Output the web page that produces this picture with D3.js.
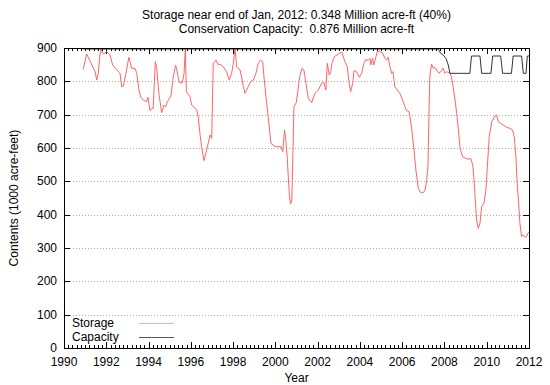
<!DOCTYPE html>
<html>
<head>
<meta charset="utf-8">
<script src="https://cdnjs.cloudflare.com/ajax/libs/d3/7.8.5/d3.min.js"></script>
<style>
  body { margin: 0; background: #fff; }
  svg text { font-family: "Liberation Sans", Arial, sans-serif; fill: #000; }
</style>
</head>
<body>
<div id="chart"></div>
<script>
// Storage (1000 acre-feet)
const storageYears = [
  1990.91, 1991.07, 1991.23, 1991.39, 1991.47, 1991.55, 1991.62, 1991.70, 1991.75, 1991.86,
  1992.02, 1992.18, 1992.30, 1992.49, 1992.65, 1992.73, 1992.81, 1992.93, 1993.07, 1993.20,
  1993.36, 1993.44, 1993.55, 1993.63, 1993.75, 1993.91, 1993.97, 1994.07, 1994.15, 1994.22,
  1994.32, 1994.38, 1994.49, 1994.62, 1994.73, 1994.82, 1994.89, 1995.06, 1995.17, 1995.28,
  1995.36, 1995.45, 1995.60, 1995.68, 1995.74, 1995.79, 1995.96, 1996.04, 1996.20, 1996.28,
  1996.35, 1996.43, 1996.51, 1996.62, 1996.75, 1996.91, 1996.99, 1997.06, 1997.19, 1997.30,
  1997.38, 1997.53, 1997.69, 1997.82, 1997.93, 1998.01, 1998.09, 1998.17, 1998.33, 1998.49,
  1998.56, 1998.72, 1998.83, 1998.96, 1999.08, 1999.19, 1999.30, 1999.40, 1999.46, 1999.59,
  1999.66, 1999.71, 1999.79, 1999.95, 2000.11, 2000.27, 2000.35, 2000.43, 2000.48, 2000.56,
  2000.62, 2000.67, 2000.72, 2000.78, 2000.83, 2000.88, 2000.99, 2001.07, 2001.15, 2001.26,
  2001.35, 2001.45, 2001.56, 2001.72, 2001.87, 2002.03, 2002.19, 2002.30, 2002.39, 2002.46,
  2002.55, 2002.62, 2002.68, 2002.79, 2002.98, 2003.14, 2003.29, 2003.40, 2003.49, 2003.56,
  2003.66, 2003.72, 2003.84, 2003.97, 2004.08, 2004.19, 2004.28, 2004.39, 2004.48, 2004.52,
  2004.60, 2004.66, 2004.76, 2004.82, 2004.95, 2005.07, 2005.18, 2005.26, 2005.34, 2005.42,
  2005.50, 2005.57, 2005.65, 2005.77, 2005.89, 2006.02, 2006.13, 2006.21, 2006.33, 2006.44,
  2006.56, 2006.65, 2006.76, 2006.88, 2007.00, 2007.08, 2007.16, 2007.22, 2007.28, 2007.31,
  2007.39, 2007.47, 2007.55, 2007.63, 2007.75, 2007.86, 2007.94, 2008.02, 2008.10, 2008.26,
  2008.33, 2008.41, 2008.50, 2008.58, 2008.66, 2008.74, 2008.86, 2009.02, 2009.13, 2009.24,
  2009.34, 2009.40, 2009.46, 2009.52, 2009.60, 2009.68, 2009.76, 2009.87, 2009.96, 2010.03,
  2010.12, 2010.24, 2010.39, 2010.47, 2010.55, 2010.66, 2010.78, 2010.94, 2011.10, 2011.22,
  2011.30, 2011.38, 2011.44, 2011.51, 2011.57, 2011.65, 2011.73, 2011.81, 2011.89, 2011.94,
  2012.00
];
const storageValues = [
  836, 882, 862, 839, 829, 804, 824, 879, 895, 882,
  889, 879, 849, 836, 824, 784, 786, 824, 872, 839,
  839, 824, 774, 752, 744, 739, 752, 712, 719, 719,
  859, 844, 764, 706, 729, 724, 739, 756, 814, 848,
  829, 796, 796, 824, 898, 769, 754, 729, 719, 714,
  694, 644, 604, 562, 594, 639, 629, 854, 864, 849,
  852, 844, 829, 804, 824, 854, 898, 844, 834, 784,
  764, 784, 799, 804, 824, 854, 864, 859, 814, 734,
  694, 664, 614, 606, 604, 604, 589, 654, 634, 574,
  504, 454, 432, 444, 584, 724, 736, 774, 814, 839,
  834, 794, 749, 736, 764, 774, 794, 796, 774, 854,
  819, 829, 854, 874, 882, 888, 859, 844, 794, 769,
  794, 832, 829, 812, 824, 854, 866, 862, 869, 849,
  869, 849, 874, 889, 889, 886, 869, 864, 872, 844,
  824, 829, 784, 774, 764, 744, 724, 712, 709, 664,
  594, 534, 479, 466, 466, 474, 504, 544, 744, 814,
  852, 839, 842, 834, 824, 832, 839, 824, 829, 824,
  814, 784, 744, 704, 654, 599, 574, 569, 566, 569,
  549, 504, 444, 384, 359, 374, 424, 434, 474, 544,
  634, 679, 696, 699, 679, 674, 669, 662, 659, 654,
  634, 574, 494, 434, 374, 334, 339, 332, 334, 344,
  348
];

// Conservation capacity (1000 acre-feet)
const capacityYears = [
  1990.91, 2007.71, 2007.82, 2007.94, 2008.07, 2008.18, 2008.26, 2009.20, 2009.28, 2009.68,
  2009.76, 2010.20, 2010.28, 2010.66, 2010.75, 2011.17, 2011.25, 2011.65, 2011.73, 2011.86,
  2011.92, 2012.00
];
const capacityValues = [
  897, 897, 884, 879, 869, 849, 824, 824, 876, 876,
  824, 824, 876, 876, 824, 824, 876, 876, 824, 824,
  876, 876
];

const xTicks = [1990, 1992, 1994, 1996, 1998, 2000, 2002, 2004, 2006, 2008, 2010, 2012];
const yTicks = [0, 100, 200, 300, 400, 500, 600, 700, 800, 900];
const titleLines = [
  'Storage near end of Jan, 2012: 0.348 Million acre-ft (40%)',
  'Conservation Capacity:  0.876 Million acre-ft'
];

/* ---- layout ---- */
const W = 550, H = 385;
const plot = { left: 64, right: 529, top: 48, bottom: 348 };
const FS = 12;

const svg = d3.select('#chart').append('svg')
  .attr('width', W).attr('height', H);

const x = d3.scaleLinear().domain([1990, 2012]).range([plot.left, plot.right]);
const y = d3.scaleLinear().domain([0, 900]).range([plot.bottom, plot.top]);

// dotted grid lines
svg.append('g').selectAll('line')
  .data(yTicks.filter(v => v > 0 && v < 900))
  .enter().append('line')
  .attr('x1', plot.left).attr('x2', plot.right)
  .attr('y1', d => Math.round(y(d)) + 0.5).attr('y2', d => Math.round(y(d)) + 0.5)
  .attr('stroke', '#aaa')
  .attr('stroke-width', 1)
  .attr('stroke-dasharray', '1,2');

// axes (gnuplot style: ticks inside, mirrored)
const minorX = d3.range(1990, 2012.0001, 0.2);
function tickGroup(ticks, len, draw) {
  const g = svg.append('g').attr('stroke', '#000').attr('stroke-width', 1);
  ticks.forEach(t => draw(g, t, len));
}
tickGroup(minorX, 3, (g, t, len) => {
  const px = Math.round(x(t)) + 0.5;
  g.append('line').attr('x1', px).attr('x2', px).attr('y1', plot.bottom).attr('y2', plot.bottom - len);
  g.append('line').attr('x1', px).attr('x2', px).attr('y1', plot.top).attr('y2', plot.top + len);
});
tickGroup(xTicks, 6, (g, t, len) => {
  const px = Math.round(x(t)) + 0.5;
  g.append('line').attr('x1', px).attr('x2', px).attr('y1', plot.bottom).attr('y2', plot.bottom - len);
  g.append('line').attr('x1', px).attr('x2', px).attr('y1', plot.top).attr('y2', plot.top + len);
});
tickGroup(yTicks, 6, (g, t, len) => {
  const py = Math.round(y(t)) + 0.5;
  g.append('line').attr('x1', plot.left).attr('x2', plot.left + len).attr('y1', py).attr('y2', py);
  g.append('line').attr('x1', plot.right).attr('x2', plot.right - len).attr('y1', py).attr('y2', py);
});

// tick labels
svg.append('g').selectAll('text')
  .data(xTicks).enter().append('text')
  .attr('x', d => x(d)).attr('y', plot.bottom + 18)
  .attr('text-anchor', 'middle')
  .attr('font-size', FS)
  .text(d => d);
svg.append('g').selectAll('text')
  .data(yTicks).enter().append('text')
  .attr('x', plot.left - 7).attr('y', d => y(d) + 4)
  .attr('text-anchor', 'end')
  .attr('font-size', FS)
  .text(d => d);

// lines
const line = d3.line().x(d => x(d[0])).y(d => y(d[1]));
const storagePts = storageYears.map((yr, i) => [yr, storageValues[i]]);
const capacityPts = capacityYears.map((yr, i) => [yr, capacityValues[i]]);

svg.append('path')
  .datum(storagePts)
  .attr('d', line)
  .attr('fill', 'none')
  .attr('stroke', '#ff6464')
  .attr('stroke-width', 1);

svg.append('path')
  .datum(capacityPts)
  .attr('d', line)
  .attr('fill', 'none')
  .attr('stroke', '#333')
  .attr('stroke-width', 1);

// frame
svg.append('rect')
  .attr('x', plot.left + 0.5).attr('y', plot.top + 0.5)
  .attr('width', plot.right - plot.left).attr('height', plot.bottom - plot.top)
  .attr('fill', 'none').attr('stroke', '#000').attr('stroke-width', 1);

// legend
const legend = [
  { name: 'Storage', color: '#ffaaaa', y: 323 },
  { name: 'Capacity', color: '#555', y: 337 }
];
legend.forEach(l => {
  svg.append('text').attr('x', 72).attr('y', l.y + 4)
    .attr('font-size', FS).text(l.name);
  svg.append('line')
    .attr('x1', 139).attr('x2', 174)
    .attr('y1', l.y + 0.5).attr('y2', l.y + 0.5)
    .attr('stroke', l.color).attr('stroke-width', 1);
});

// titles
svg.append('g').selectAll('text')
  .data(titleLines).enter().append('text')
  .attr('x', (plot.left + plot.right) / 2)
  .attr('y', (d, i) => 19 + i * 14)
  .attr('text-anchor', 'middle')
  .attr('font-size', FS)
  .style('white-space', 'pre')
  .text(d => d);

svg.append('text')
  .attr('x', (plot.left + plot.right) / 2)
  .attr('y', 382)
  .attr('text-anchor', 'middle')
  .attr('font-size', FS)
  .text('Year');

svg.append('text')
  .attr('transform', `translate(18, ${(plot.top + plot.bottom) / 2}) rotate(-90)`)
  .attr('text-anchor', 'middle')
  .attr('font-size', FS)
  .text('Contents (1000 acre-feet)');
</script>
</body>
</html>
